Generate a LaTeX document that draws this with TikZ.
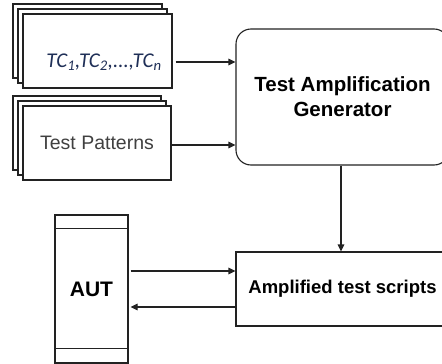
\documentclass[tikz,border=0pt]{standalone}
\usepackage{fontspec}
\setmainfont{Liberation Sans}
\newfontfamily\calibfont{Carlito}
\usetikzlibrary{arrows.meta,calc}
\definecolor{linegray}{HTML}{222222}
\definecolor{tcblue}{HTML}{1F2F57}
\definecolor{txtgray}{HTML}{404040}
\tikzset{
  sheet/.style={draw=linegray, line width=1.3pt, fill=white, inner sep=0pt},
  genbox/.style={draw=linegray, line width=1.1pt, rounded corners=15pt, fill=white, inner sep=0pt,
    minimum width=213pt, minimum height=136pt, align=center, font=\bfseries\fontsize{20.5}{25}\selectfont},
  ampbox/.style={draw=linegray, line width=1.1pt, fill=white, inner sep=0pt,
    minimum width=213pt, minimum height=74pt, font=\bfseries\fontsize{18.5}{22}\selectfont},
  autbox/.style={draw=linegray, line width=1.1pt, fill=white, inner sep=0pt,
    minimum width=73pt, minimum height=148pt, font=\bfseries\fontsize{21}{24}\selectfont},
  arr/.style={draw=linegray, line width=1.1pt, -{Triangle[length=7pt,width=6.5pt]}},
}
\begin{document}
\begin{tikzpicture}[x=1pt,y=-1pt]
  \useasboundingbox (0,0) rectangle (442,364);
  \clip (0,0) rectangle (442,364);
  \fill[white] (0,0) rectangle (442,364);

  % stacked sheets holding the test cases
  \node[sheet, minimum width=149pt, minimum height=74pt] (tcb2) at (87.5,41) {};
  \node[sheet, minimum width=149pt, minimum height=74pt] (tcb1) at (92.5,46) {};
  \node[sheet, minimum width=149pt, minimum height=74pt] (tc) at (97.5,51) {};
  \node[text=tcblue, font=\calibfont\itshape\fontsize{21}{24}\selectfont, anchor=base] (tctext) at (104,67)
    {TC\textsubscript{1},TC\textsubscript{2},...,TC\textsubscript{n}};

  % stacked sheets holding the test patterns
  \node[sheet, minimum width=148pt, minimum height=74pt] (tpb2) at (87,133) {};
  \node[sheet, minimum width=148pt, minimum height=74pt] (tpb1) at (92,138) {};
  \node[sheet, minimum width=148pt, minimum height=74pt, text=txtgray,
        font=\fontsize{19.5}{22}\selectfont] (tp) at (97,143) {Test Patterns};

  % generator and its output
  \node[genbox] (gen) at (342.5,97) {Test Amplification\\Generator};
  \node[ampbox] (amp) at (342.5,289) {Amplified test scripts};

  % application under test
  \node[autbox] (aut) at (91.5,289) {AUT};
  \draw[draw=linegray, line width=1.1pt] ([yshift=-14pt]aut.north west) -- ([yshift=-14pt]aut.north east);
  \draw[draw=linegray, line width=1.1pt] ([yshift=15pt]aut.south west) -- ([yshift=15pt]aut.south east);

  % connectors
  \draw[arr] ([xshift=3pt,yshift=-11pt]tc.east) -- ([yshift=-11pt]tc.east -| gen.west);
  \draw[arr] ([yshift=-2pt]tp.east) -- ([yshift=-2pt]tp.east -| gen.west);
  \draw[arr] ([xshift=-1.5pt]gen.south) -- ([xshift=-1.5pt]gen.south |- amp.north);
  \draw[arr] ([xshift=2pt,yshift=18pt]aut.east) -- ([yshift=18pt]aut.east -| amp.west);
  \draw[arr] ([yshift=-18pt]amp.west) -- ([xshift=2pt,yshift=-18pt]amp.west -| aut.east);
\end{tikzpicture}
\end{document}
